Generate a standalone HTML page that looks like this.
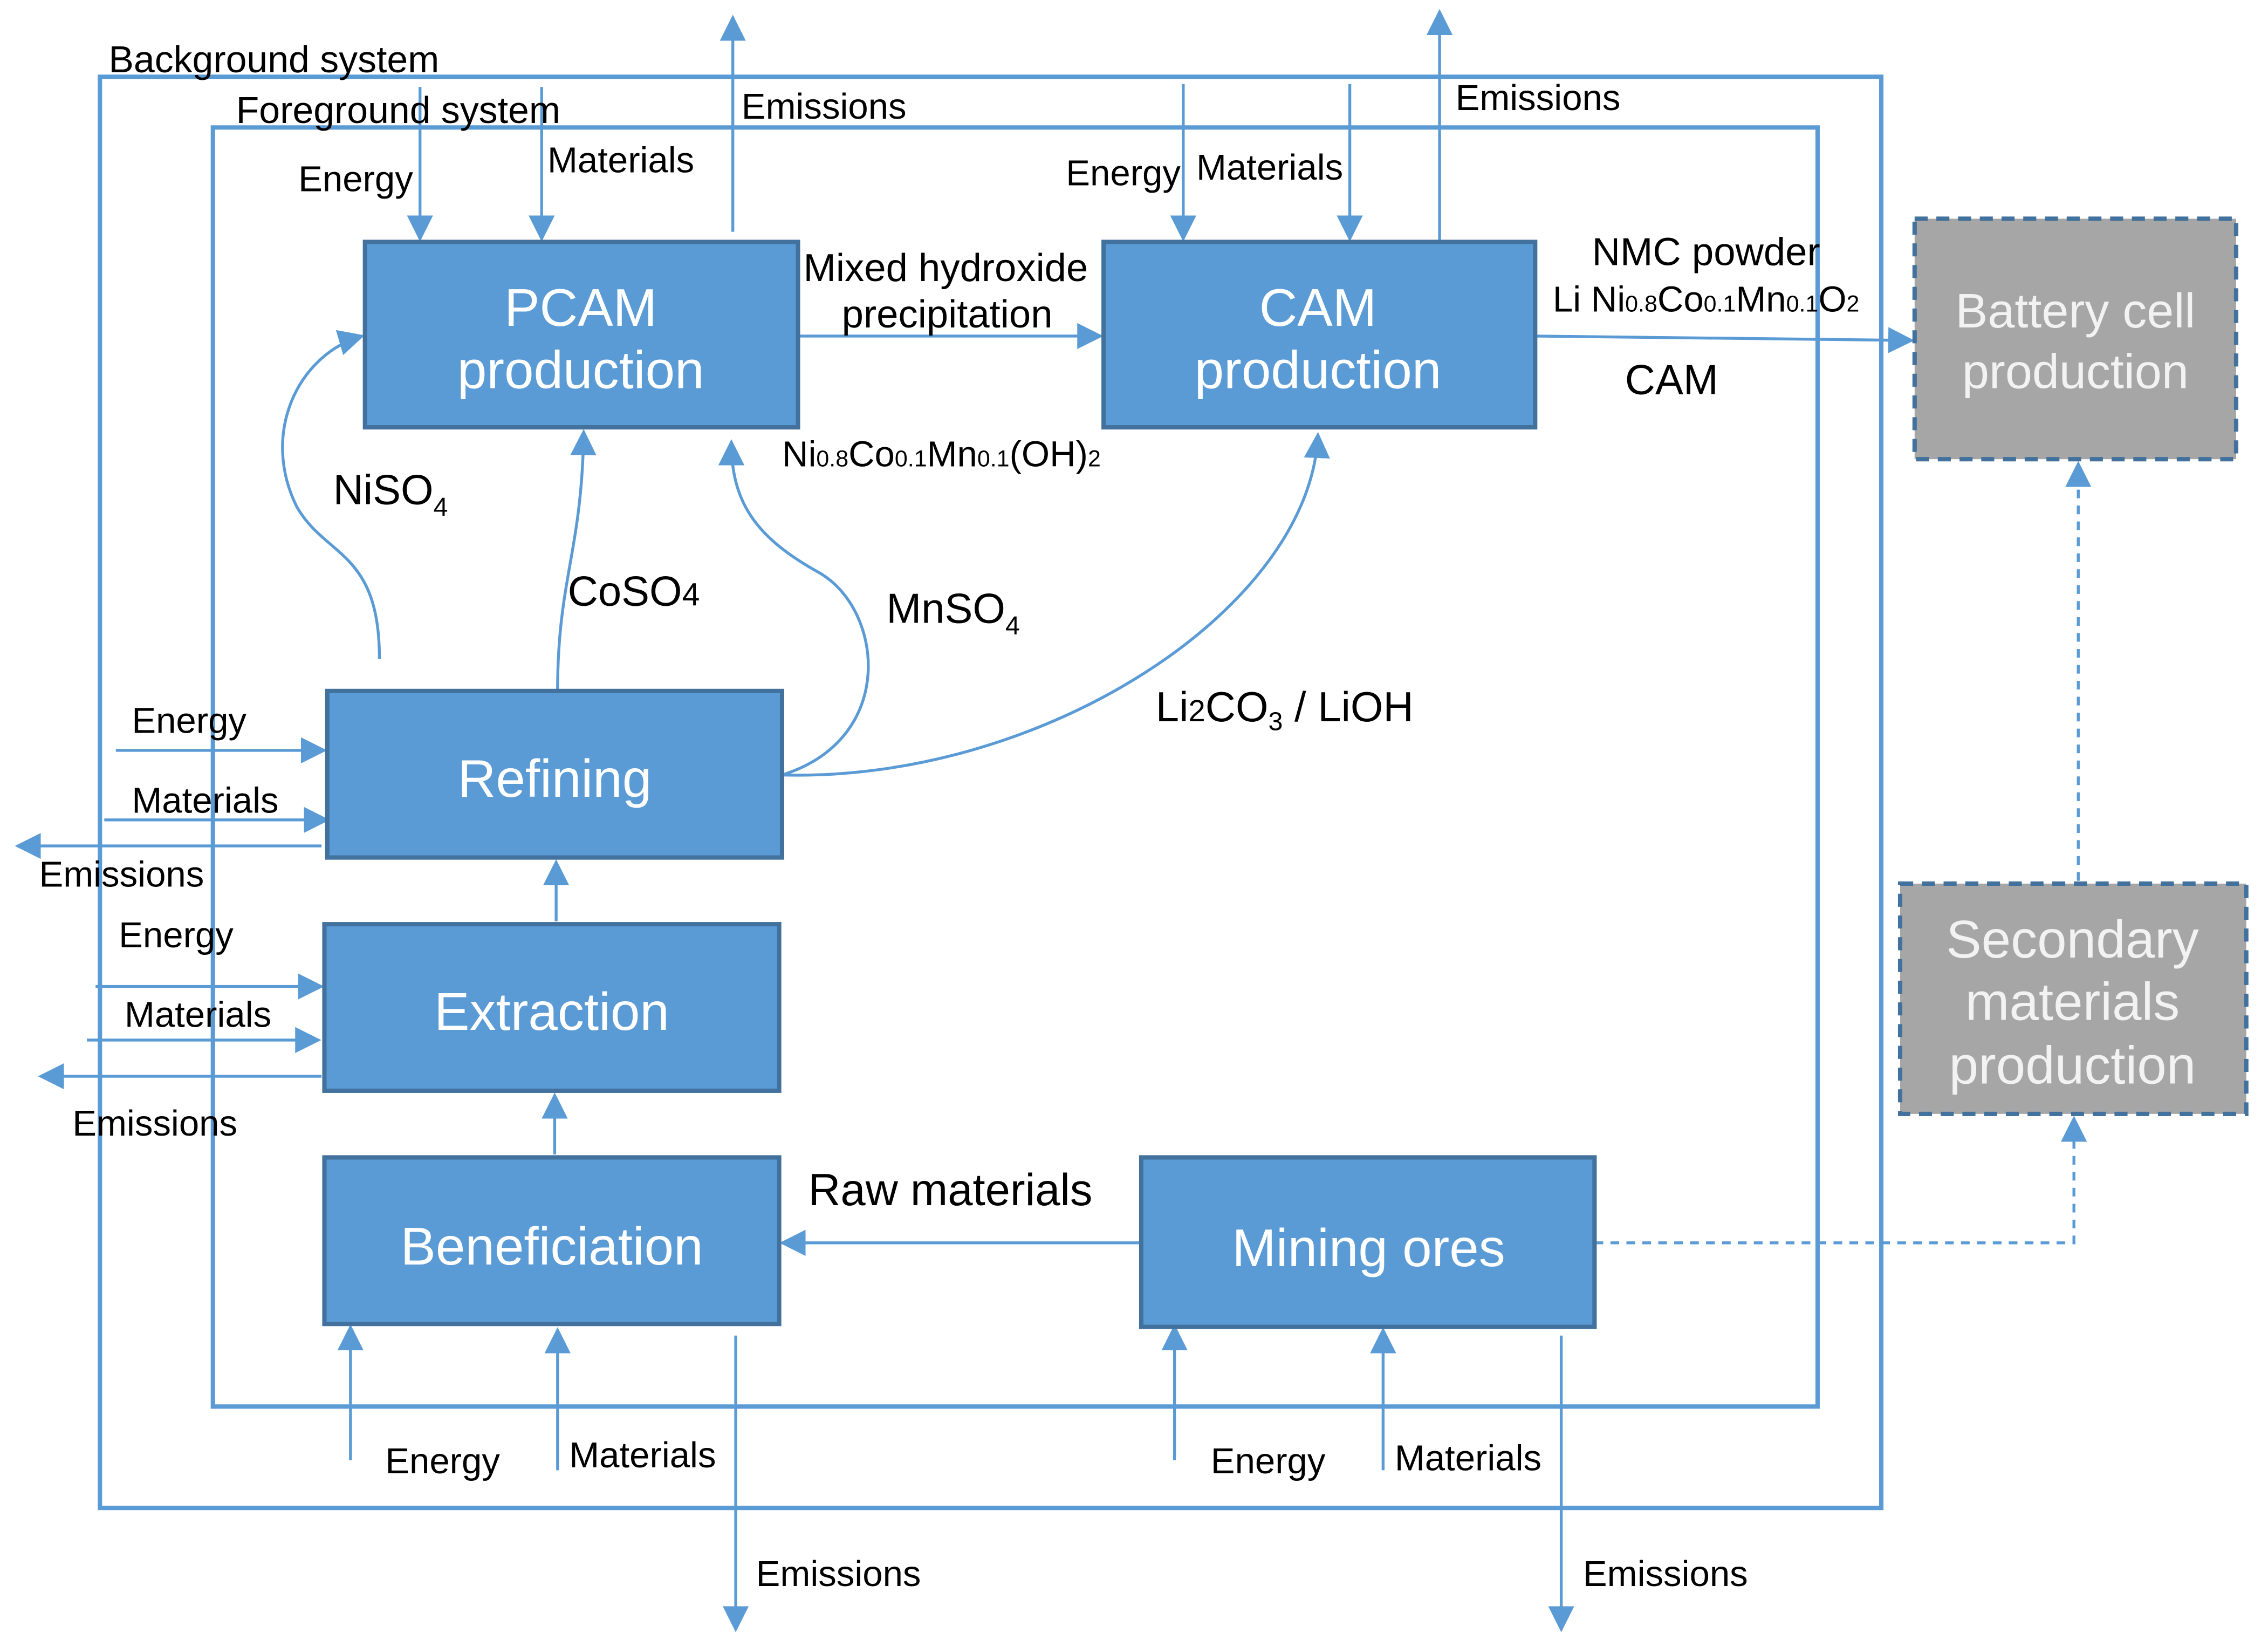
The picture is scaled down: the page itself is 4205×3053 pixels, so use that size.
<!DOCTYPE html>
<html><head><meta charset="utf-8"><style>
html,body{margin:0;padding:0;background:#fff;}
svg{display:block;}
text{font-family:"Liberation Sans",Arial,sans-serif;}
</style></head><body>
<svg width="4205" height="3053" viewBox="0 0 1566 1137" preserveAspectRatio="none" xmlns="http://www.w3.org/2000/svg">
<defs>
<marker id="b" viewBox="0 0 10 10" refX="9" refY="5" markerWidth="18" markerHeight="18" orient="auto" markerUnits="userSpaceOnUse">
<path d="M0,0 L10,5 L0,10 z" fill="#5b9bd5"/></marker>
</defs>
<rect x="69" y="53" width="1230" height="988" fill="none" stroke="#5b9bd5" stroke-width="3"/>
<rect x="147" y="88" width="1108" height="883" fill="none" stroke="#5b9bd5" stroke-width="3"/>

<g fill="none" stroke="#5b9bd5" stroke-width="2" marker-end="url(#b)">
<path d="M290,60 V165"/><path d="M374,60 V165"/><path d="M506,160 V12"/>
<path d="M817,58 V165"/><path d="M932,58 V165"/><path d="M994,167 V8"/>
<path d="M551,232 H760"/><path d="M1060,232 L1320,235"/>
<path d="M262,455 C262,380 225,385 205,350 C180,300 205,245 250,232"/>
<path d="M385,477 C385,400 402,380 403,298"/>
<path d="M540,535 C620,510 610,420 565,395 C520,370 505,345 505,305"/>
<path d="M540,535 C720,540 905,420 910,300"/>
<path d="M80,518 H224"/><path d="M72,566 H226"/><path d="M222,584 H12"/>
<path d="M66,681 H222"/><path d="M60,718 H220"/><path d="M222,743 H28"/>
<path d="M384,636 V595"/><path d="M383,797 V756"/>
<path d="M788,858 H540"/>
<path d="M242,1008 V916"/><path d="M385,1015 V918"/><path d="M508,922 V1125"/>
<path d="M811,1008 V916"/><path d="M955,1015 V918"/><path d="M1078,922 V1125"/>
</g>
<g fill="none" stroke="#5b9bd5" stroke-width="2" stroke-dasharray="6,5" marker-end="url(#b)">
<path d="M1101,858 H1432 V772"/><path d="M1435,608 V320"/>
</g>

<g fill="#5b9bd5" stroke="#41719c" stroke-width="3">
<rect x="252" y="167" width="299" height="128"/>
<rect x="762" y="167" width="298" height="128"/>
<rect x="226" y="477" width="314" height="115"/>
<rect x="224" y="638" width="314" height="115"/>
<rect x="224" y="799" width="314" height="115"/>
<rect x="788" y="799" width="313" height="117"/>
</g>
<g fill="#a6a6a6" stroke="#41719c" stroke-width="3" stroke-dasharray="9,6">
<rect x="1322" y="151" width="222" height="166"/>
<rect x="1312" y="610" width="239" height="159"/>
</g>

<g fill="#fff" font-size="36.5" text-anchor="middle">
<text x="401" y="225">PCAM</text><text x="401" y="268">production</text>
<text x="910" y="225">CAM</text><text x="910" y="268">production</text>
<text x="383" y="550">Refining</text>
<text x="381" y="711">Extraction</text>
<text x="381" y="873">Beneficiation</text>
<text x="945" y="874">Mining ores</text>
</g>
<g fill="#f2f2f2" text-anchor="middle">
<text x="1433" y="226" font-size="33.5">Battery cell</text><text x="1433" y="268" font-size="33.5">production</text>
<text x="1431" y="661" font-size="36.5">Secondary</text><text x="1431" y="704" font-size="36.5">materials</text><text x="1431" y="748" font-size="36.5">production</text>
</g>

<g fill="#000" font-size="25">
<text x="75" y="50" font-size="26">Background system</text>
<text x="163" y="85" font-size="26">Foreground system</text>
<text x="206" y="132">Energy</text>
<text x="378" y="119">Materials</text>
<text x="512" y="82">Emissions</text>
<text x="736" y="128">Energy</text>
<text x="826" y="124">Materials</text>
<text x="1005" y="76">Emissions</text>
<text x="91" y="506">Energy</text>
<text x="91" y="561">Materials</text>
<text x="27" y="612">Emissions</text>
<text x="82" y="654">Energy</text>
<text x="86" y="709">Materials</text>
<text x="50" y="784">Emissions</text>
<text x="266" y="1017">Energy</text>
<text x="393" y="1013">Materials</text>
<text x="522" y="1095">Emissions</text>
<text x="836" y="1017">Energy</text>
<text x="963" y="1015">Materials</text>
<text x="1093" y="1095">Emissions</text>
</g>
<g fill="#000" font-size="27">
<text x="653" y="194" text-anchor="middle">Mixed hydroxide</text>
<text x="654" y="226" text-anchor="middle">precipitation</text>
<text x="540" y="322" font-size="25">Ni<tspan font-size="16">0.8</tspan>Co<tspan font-size="16">0.1</tspan>Mn<tspan font-size="16">0.1</tspan>(OH)<tspan font-size="16">2</tspan></text>
<text x="1178" y="183" text-anchor="middle">NMC powder</text>
<text x="1178" y="215" text-anchor="middle" font-size="25">Li Ni<tspan font-size="16">0.8</tspan>Co<tspan font-size="16">0.1</tspan>Mn<tspan font-size="16">0.1</tspan>O<tspan font-size="16">2</tspan></text>
<text x="1122" y="272" font-size="29">CAM</text>
<text x="230" y="348" font-size="29">NiSO<tspan font-size="18" dy="8">4</tspan></text>
<text x="392" y="418" font-size="29">CoSO<tspan font-size="22">4</tspan></text>
<text x="612" y="430" font-size="29">MnSO<tspan font-size="18" dy="8">4</tspan></text>
<text x="798" y="498" font-size="29">Li<tspan font-size="21">2</tspan>CO<tspan font-size="18" dy="6">3</tspan><tspan dy="-6"> / LiOH</tspan></text>
<text x="558" y="832" font-size="31">Raw materials</text>
</g>
</svg>
</body></html>
